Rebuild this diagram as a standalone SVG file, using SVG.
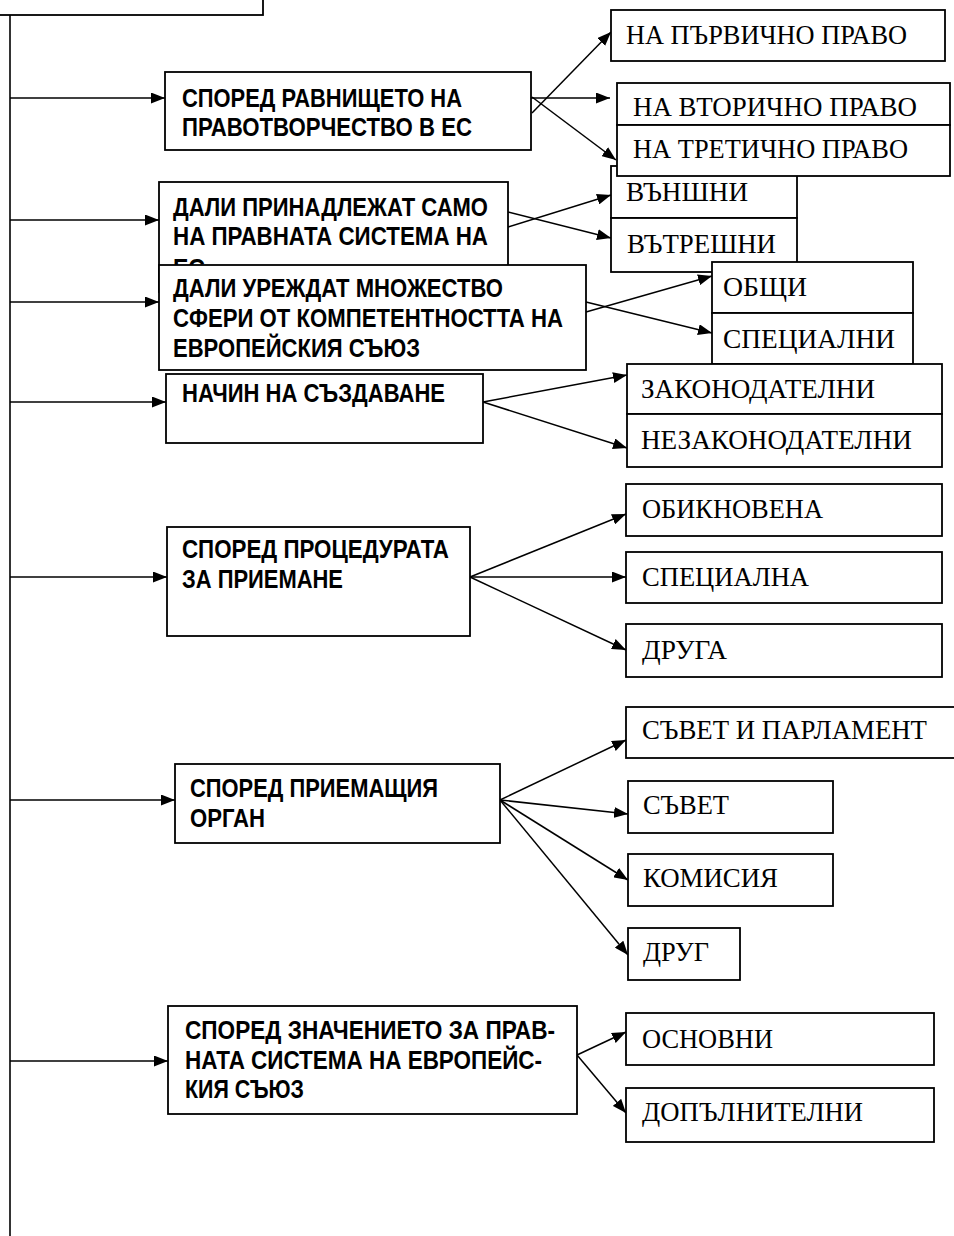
<svg xmlns="http://www.w3.org/2000/svg" width="954" height="1236" viewBox="0 0 954 1236">
<style>
.box{fill:#fff;stroke:#000;stroke-width:1.8}
.b{font-family:"Liberation Sans",Arial,sans-serif;font-weight:bold;font-size:25.5px;fill:#000}
.s{font-family:"Liberation Serif","Times New Roman",serif;font-size:27px;fill:#000}
.ln{fill:none;stroke:#000;stroke-width:1.6}
.ar{fill:none;stroke:#000;stroke-width:1.5;marker-end:url(#ah)}
</style>
<defs>
<marker id="ah" markerUnits="userSpaceOnUse" markerWidth="14" markerHeight="11" refX="14" refY="5.5" orient="auto">
<path d="M0,0 L14,5.5 L0,11 z" fill="#000"/>
</marker>
</defs>
<g id="root"><rect class="box" x="-4" y="-4" width="267" height="19"/></g>
<g id="connectors">
<line class="ln" x1="10" y1="15" x2="10" y2="1236"/>
<line class="ar" x1="10" y1="98" x2="165" y2="98"/>
<line class="ar" x1="10" y1="220" x2="159" y2="220"/>
<line class="ar" x1="10" y1="302" x2="159" y2="302"/>
<line class="ar" x1="10" y1="402" x2="166" y2="402"/>
<line class="ar" x1="10" y1="577" x2="167" y2="577"/>
<line class="ar" x1="10" y1="800" x2="175" y2="800"/>
<line class="ar" x1="10" y1="1061" x2="168" y2="1061"/>
<line class="ar" x1="532" y1="113" x2="611" y2="32"/>
<line class="ar" x1="531" y1="98" x2="610" y2="98"/>
<line class="ar" x1="532" y1="97" x2="616" y2="160"/>
<line class="ar" x1="508" y1="227" x2="611" y2="195"/>
<line class="ar" x1="508" y1="212" x2="611" y2="238"/>
<line class="ar" x1="586" y1="312" x2="712" y2="276"/>
<line class="ar" x1="586" y1="302" x2="712" y2="333"/>
<line class="ar" x1="483" y1="402" x2="627" y2="375"/>
<line class="ar" x1="483" y1="402" x2="627" y2="448"/>
<line class="ar" x1="470" y1="577" x2="626" y2="514"/>
<line class="ar" x1="470" y1="577" x2="626" y2="577"/>
<line class="ar" x1="470" y1="577" x2="626" y2="650"/>
<line class="ar" x1="500" y1="800" x2="626" y2="740"/>
<line class="ar" x1="500" y1="800" x2="628" y2="814"/>
<line class="ar" x1="500" y1="800" x2="628" y2="880"/>
<line class="ar" x1="500" y1="800" x2="628" y2="955"/>
<line class="ar" x1="577" y1="1055" x2="626" y2="1032"/>
<line class="ar" x1="577" y1="1055" x2="626" y2="1113"/>
</g>
<g id="n-vanshni"><rect class="box" x="611" y="166" width="186" height="52"/><text class="s" x="626" y="201" textLength="122" lengthAdjust="spacingAndGlyphs">ВЪНШНИ</text></g>
<g id="n-vatreshni"><rect class="box" x="611" y="218" width="186" height="54"/><text class="s" x="627" y="253" textLength="149" lengthAdjust="spacingAndGlyphs">ВЪТРЕШНИ</text></g>
<g id="n-parvichno"><rect class="box" x="611" y="10" width="334" height="51"/><text class="s" x="626" y="44" textLength="281" lengthAdjust="spacingAndGlyphs">НА ПЪРВИЧНО ПРАВО</text></g>
<g id="n-vtorichno"><rect class="box" x="617" y="83" width="333" height="42"/><text class="s" x="633" y="116" textLength="284" lengthAdjust="spacingAndGlyphs">НА ВТОРИЧНО ПРАВО</text></g>
<g id="n-tretichno"><rect class="box" x="617" y="125" width="333" height="51"/><text class="s" x="633" y="158" textLength="275" lengthAdjust="spacingAndGlyphs">НА ТРЕТИЧНО ПРАВО</text></g>
<g id="n-obshti"><rect class="box" x="712" y="262" width="201" height="51"/><text class="s" x="723" y="296" textLength="84" lengthAdjust="spacingAndGlyphs">ОБЩИ</text></g>
<g id="n-specialni"><rect class="box" x="712" y="313" width="201" height="51"/><text class="s" x="723" y="348" textLength="172" lengthAdjust="spacingAndGlyphs">СПЕЦИАЛНИ</text></g>
<g id="n-zakonodatelni"><rect class="box" x="627" y="364" width="315" height="50"/><text class="s" x="641" y="398" textLength="234" lengthAdjust="spacingAndGlyphs">ЗАКОНОДАТЕЛНИ</text></g>
<g id="n-nezakonodatelni"><rect class="box" x="627" y="414" width="315" height="53"/><text class="s" x="641" y="449" textLength="271" lengthAdjust="spacingAndGlyphs">НЕЗАКОНОДАТЕЛНИ</text></g>
<g id="n-obiknovena"><rect class="box" x="626" y="484" width="316" height="52"/><text class="s" x="642" y="518" textLength="181" lengthAdjust="spacingAndGlyphs">ОБИКНОВЕНА</text></g>
<g id="n-specialna"><rect class="box" x="626" y="552" width="316" height="51"/><text class="s" x="642" y="586" textLength="167" lengthAdjust="spacingAndGlyphs">СПЕЦИАЛНА</text></g>
<g id="n-druga"><rect class="box" x="626" y="624" width="316" height="53"/><text class="s" x="642" y="659" textLength="85" lengthAdjust="spacingAndGlyphs">ДРУГА</text></g>
<g id="n-savet-parlament"><rect class="box" x="626" y="707" width="340" height="51"/><text class="s" x="642" y="739" textLength="285" lengthAdjust="spacingAndGlyphs">СЪВЕТ И ПАРЛАМЕНТ</text></g>
<g id="n-savet"><rect class="box" x="628" y="781" width="205" height="52"/><text class="s" x="643" y="814" textLength="86" lengthAdjust="spacingAndGlyphs">СЪВЕТ</text></g>
<g id="n-komisia"><rect class="box" x="628" y="854" width="205" height="52"/><text class="s" x="643" y="887" textLength="135" lengthAdjust="spacingAndGlyphs">КОМИСИЯ</text></g>
<g id="n-drug"><rect class="box" x="628" y="928" width="112" height="52"/><text class="s" x="643" y="961" textLength="66" lengthAdjust="spacingAndGlyphs">ДРУГ</text></g>
<g id="n-osnovni"><rect class="box" x="626" y="1013" width="308" height="52"/><text class="s" x="642" y="1048" textLength="131" lengthAdjust="spacingAndGlyphs">ОСНОВНИ</text></g>
<g id="n-dopalnitelni"><rect class="box" x="626" y="1088" width="308" height="54"/><text class="s" x="642" y="1121" textLength="221" lengthAdjust="spacingAndGlyphs">ДОПЪЛНИТЕЛНИ</text></g>
<g id="c-ravnishte"><rect class="box" x="165" y="72" width="366" height="78"/>
<text class="b" x="182" y="107" textLength="280" lengthAdjust="spacingAndGlyphs">СПОРЕД РАВНИЩЕТО НА</text>
<text class="b" x="182" y="136" textLength="290" lengthAdjust="spacingAndGlyphs">ПРАВОТВОРЧЕСТВО В ЕС</text></g>
<g id="c-prinadlezhat"><rect class="box" x="159" y="182" width="349" height="110"/>
<text class="b" x="173" y="216" textLength="315" lengthAdjust="spacingAndGlyphs">ДАЛИ ПРИНАДЛЕЖАТ САМО</text>
<text class="b" x="173" y="245" textLength="315" lengthAdjust="spacingAndGlyphs">НА ПРАВНАТА СИСТЕМА НА</text>
<text class="b" x="173" y="277" textLength="32" lengthAdjust="spacingAndGlyphs">ЕС</text></g>
<g id="c-urezhdat"><rect class="box" x="159" y="265" width="427" height="105"/>
<text class="b" x="173" y="297" textLength="330" lengthAdjust="spacingAndGlyphs">ДАЛИ УРЕЖДАТ МНОЖЕСТВО</text>
<text class="b" x="173" y="327" textLength="390" lengthAdjust="spacingAndGlyphs">СФЕРИ ОТ КОМПЕТЕНТНОСТТА НА</text>
<text class="b" x="173" y="357" textLength="247" lengthAdjust="spacingAndGlyphs">ЕВРОПЕЙСКИЯ СЪЮЗ</text></g>
<g id="c-nachin"><rect class="box" x="166" y="374" width="317" height="69"/>
<text class="b" x="182" y="402" textLength="263" lengthAdjust="spacingAndGlyphs">НАЧИН НА СЪЗДАВАНЕ</text></g>
<g id="c-procedura"><rect class="box" x="167" y="527" width="303" height="109"/>
<text class="b" x="182" y="558" textLength="267" lengthAdjust="spacingAndGlyphs">СПОРЕД ПРОЦЕДУРАТА</text>
<text class="b" x="182" y="588" textLength="161" lengthAdjust="spacingAndGlyphs">ЗА ПРИЕМАНЕ</text></g>
<g id="c-organ"><rect class="box" x="175" y="764" width="325" height="79"/>
<text class="b" x="190" y="797" textLength="248" lengthAdjust="spacingAndGlyphs">СПОРЕД ПРИЕМАЩИЯ</text>
<text class="b" x="190" y="827" textLength="75" lengthAdjust="spacingAndGlyphs">ОРГАН</text></g>
<g id="c-znachenie"><rect class="box" x="168" y="1006" width="409" height="108"/>
<text class="b" x="185" y="1039" textLength="370" lengthAdjust="spacingAndGlyphs">СПОРЕД ЗНАЧЕНИЕТО ЗА ПРАВ-</text>
<text class="b" x="185" y="1069" textLength="357" lengthAdjust="spacingAndGlyphs">НАТА СИСТЕМА НА ЕВРОПЕЙС-</text>
<text class="b" x="185" y="1098" textLength="119" lengthAdjust="spacingAndGlyphs">КИЯ СЪЮЗ</text></g>
</svg>
